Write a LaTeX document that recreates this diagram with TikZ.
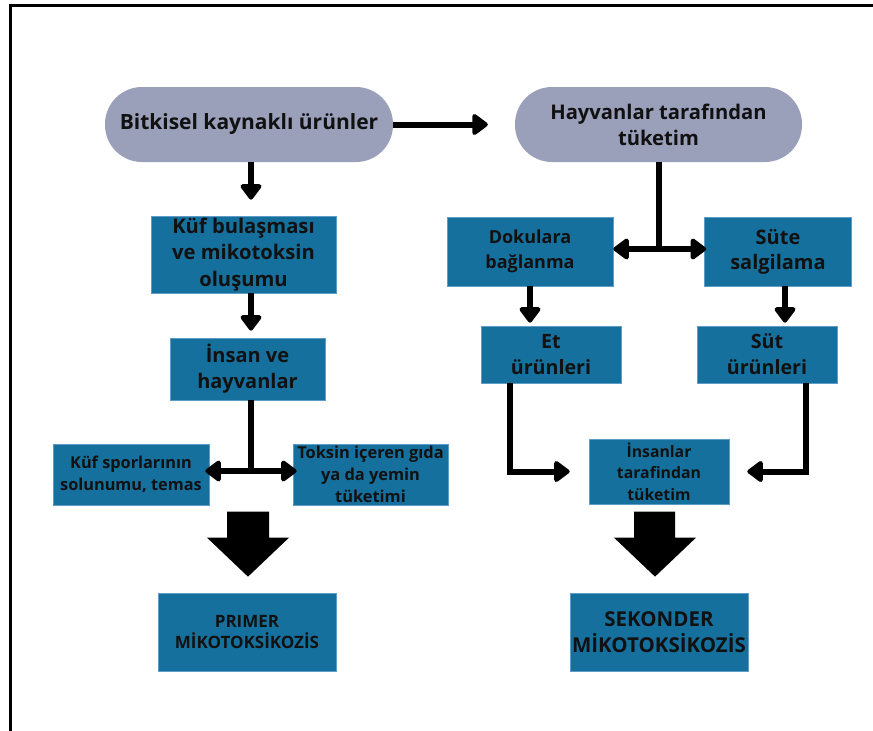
\documentclass[tikz,border=0pt]{standalone}
\usepackage{fontspec}
\setmainfont{Open Sans}
\usetikzlibrary{arrows.meta}
\definecolor{pillc}{HTML}{9A9FBA}
\definecolor{boxc}{HTML}{16709D}
\definecolor{boxedge}{HTML}{5E9CC6}
\definecolor{txt}{HTML}{111111}
\tikzset{
  pill/.style={fill=pillc, rounded corners=37pt, inner sep=0pt, align=center, text=txt},
  box/.style={fill=boxc, draw=boxedge, line width=0.7pt, inner sep=0pt, align=center, text=txt},
  fs/.style 2 args={font=\bfseries\fontsize{#1}{#2}\selectfont},
  conn/.style={line width=6pt, -{Triangle[length=17pt,width=24pt,round]}},
  stem/.style={line width=6pt},
  blockarrow/.style={fill=black},
}
\begin{document}
\begin{tikzpicture}[x=1pt,y=-1pt]
\useasboundingbox (0,0) rectangle (873,731);
\draw[line width=3pt] (10,731) -- (10,5) -- (873,5);

% nodes
\node[pill, fs={21}{24}, minimum width=288, minimum height=75] (bit) at (249,124.5) {Bitkisel kaynaklı ürünler};
\node[pill, fs={20.2}{26}, minimum width=287, minimum height=75] (hay) at (658.5,124.5) {Hayvanlar tarafından\\tüketim};
\node[box, fs={20.2}{26.5}, minimum width=185, minimum height=77] (kuf) at (243.5,254.5) {Küf bulaşması\\ve mikotoksin\\oluşumu};
\node[box, fs={20}{26}, minimum width=155, minimum height=62] (ins) at (247.5,369) {İnsan ve\\hayvanlar};
\node[box, fs={16.3}{22}, minimum width=156, minimum height=61] (spor) at (131,474.5) {Küf sporlarının\\solunumu, temas};
\node[box, fs={16.4}{22}, minimum width=155, minimum height=61] (toks) at (370.5,474.5) {Toksin içeren gıda\\ya da yemin\\tüketimi};
\node[box, fs={17}{21.5}, minimum width=178, minimum height=78] (prim) at (247,632) {PRIMER\\MİKOTOKSİKOZİS};
\node[box, fs={18}{25}, minimum width=166, minimum height=69] (dok) at (530,251.5) {Dokulara\\bağlanma};
\node[box, fs={20}{25}, minimum width=147, minimum height=69] (sute) at (778,251.5) {Süte\\salgilama};
\node[box, fs={19.7}{26}, minimum width=140, minimum height=57] (et) at (551,354.5) {Et\\ürünleri};
\node[box, fs={19.7}{26}, minimum width=140, minimum height=57] (sut) at (767,354.5) {Süt\\ürünleri};
\node[box, fs={15.8}{21.5}, minimum width=140, minimum height=65] (inl) at (659,471.5) {İnsanlar\\tarafindan\\tüketim};
\node[box, fs={20.5}{25.5}, minimum width=178, minimum height=78] (sek) at (659,632) {SEKONDER\\MİKOTOKSİKOZİS};

% column coordinates
\coordinate (xL) at (251,0);
\coordinate (xR) at (659,0);
\coordinate (xS) at (785,0);
\coordinate (xE) at (510,0);
\coordinate (xU) at (806,0);
\coordinate (jL) at (251,471);
\coordinate (jR) at (659,249);

% connectors
\draw[conn, shorten >=27pt] (bit.east) -- (hay.west);
\draw[conn, shorten >=16pt] (bit.south -| xL) -- (kuf.north -| xL);
\draw[conn, shorten >=7pt] (kuf.south -| xL) -- (ins.north -| xL);
\draw[stem] (ins.south -| xL) -- (jL);
\draw[conn, shorten >=-4pt] (jL) -- (spor.east |- jL);
\draw[conn, shorten >=-4pt] (jL) -- (toks.west |- jL);

\draw[stem] (hay.south -| xR) -- (jR);
\draw[conn] (jR) -- (dok.east |- jR);
\draw[conn, shorten >=-2pt] (jR) -- (sute.west |- jR);
\draw[conn, shorten >=3pt] (dok.south) -- (dok.south |- et.north);
\draw[conn, shorten >=3pt] (sute.south -| xS) -- (sut.north -| xS);
\draw[conn, shorten >=19pt] (et.south -| xE) |- (inl.west);
\draw[conn, shorten >=18pt] (sut.south -| xU) |- (inl.east);

% block arrows
\fill[blockarrow, shift={(prim.north)}] (-20,-81) -- (22,-81) -- (22,-55) -- (42,-55) -- (1,-16) -- (-40,-55) -- (-20,-55) -- cycle;
\fill[blockarrow, shift={(sek.north)}] (-25,-81) -- (16,-81) -- (16,-55) -- (37,-55) -- (-4,-16) -- (-45,-55) -- (-25,-55) -- cycle;
\end{tikzpicture}
\end{document}
